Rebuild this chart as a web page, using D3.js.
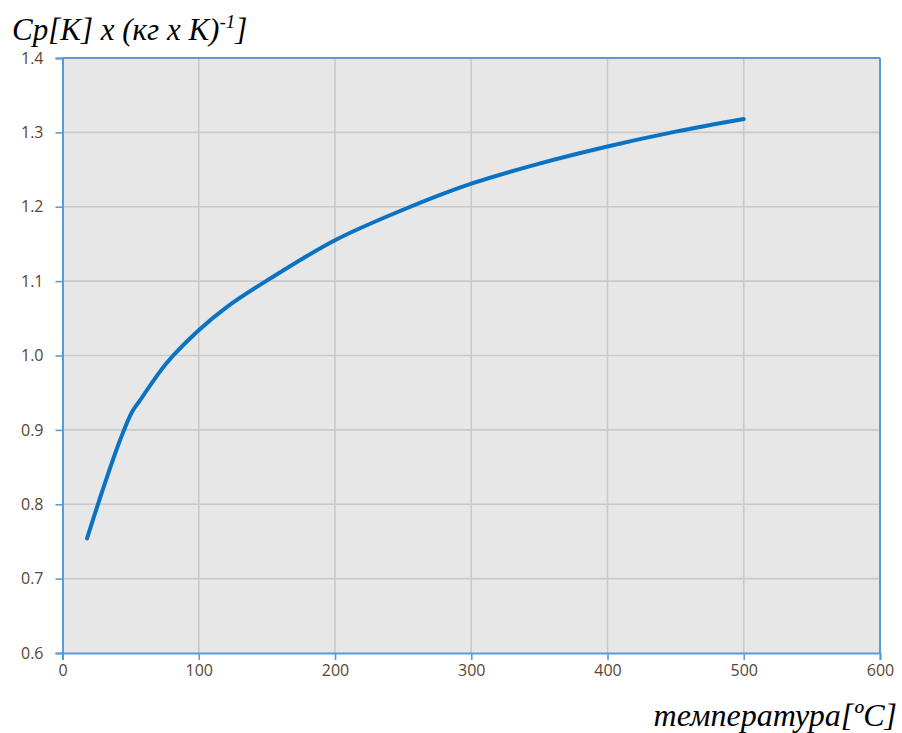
<!DOCTYPE html>
<html>
<head>
<meta charset="utf-8">
<script src="https://cdn.jsdelivr.net/npm/d3@7"></script>
<style>
  html, body { margin: 0; padding: 0; background: #ffffff; }
  svg { display: block; }
</style>
</head>
<body>
<svg id="chart" width="902" height="733"></svg>
<script>
// Specific heat vs temperature
const temperature = [18, 30, 42, 51, 57, 76, 100, 122, 152, 200, 250, 300, 350, 400, 450, 500];
const cp = [0.754, 0.822, 0.885, 0.924, 0.940, 0.989, 1.034, 1.067, 1.103, 1.155, 1.196, 1.231, 1.258, 1.281, 1.301, 1.318];
const xTicks = [0, 100, 200, 300, 400, 500, 600];
const yTicks = [0.6, 0.7, 0.8, 0.9, 1.0, 1.1, 1.2, 1.3, 1.4];

const svg = d3.select("#chart");
const m = { left: 62.5, right: 880, top: 58, bottom: 653 };

const x = d3.scaleLinear().domain([0, 600]).range([m.left, m.right]);
const y = d3.scaleLinear().domain([0.6, 1.4]).range([m.bottom, m.top]);

const axisColor = "#5b9bd5";
const labelColor = "#5a4632";
const labelFont = "'Open Sans', 'Noto Sans', sans-serif";

// plot background
svg.append("rect")
  .attr("x", m.left).attr("y", m.top)
  .attr("width", m.right - m.left).attr("height", m.bottom - m.top)
  .attr("fill", "#e7e7e7");

// grid
const grid = svg.append("g").attr("stroke", "#c9c9c9").attr("stroke-width", 1.6);
grid.selectAll("line.v").data(xTicks.slice(1, -1)).join("line")
  .attr("x1", d => x(d)).attr("x2", d => x(d))
  .attr("y1", m.top).attr("y2", m.bottom);
grid.selectAll("line.h").data(yTicks.slice(1, -1)).join("line")
  .attr("x1", m.left).attr("x2", m.right)
  .attr("y1", d => y(d)).attr("y2", d => y(d));

// axes
const xAxis = d3.axisBottom(x).tickValues(xTicks).tickFormat(d3.format("d")).tickSizeOuter(0).tickSize(7).tickPadding(5);
const yAxis = d3.axisLeft(y).tickValues(yTicks).tickFormat(d3.format(".1f")).tickSizeOuter(0).tickSize(7).tickPadding(12);

const gx = svg.append("g").attr("transform", `translate(0,${m.bottom})`).call(xAxis);
const gy = svg.append("g").attr("transform", `translate(${m.left},0)`).call(yAxis);

[gx, gy].forEach(g => {
  g.select(".domain").attr("stroke", axisColor).attr("stroke-width", 2);
  g.selectAll(".tick line").attr("stroke", axisColor).attr("stroke-width", 1.6);
  g.selectAll(".tick text")
    .attr("fill", labelColor)
    .style("font-family", labelFont)
    .style("font-size", "16px");
});

// top and right frame
svg.append("line").attr("x1", m.left).attr("x2", m.right).attr("y1", m.top).attr("y2", m.top)
  .attr("stroke", axisColor).attr("stroke-width", 2);
svg.append("line").attr("x1", m.right).attr("x2", m.right).attr("y1", m.top).attr("y2", m.bottom)
  .attr("stroke", axisColor).attr("stroke-width", 2);

// curve
const line = d3.line()
  .x((d, i) => x(temperature[i]))
  .y(d => y(d))
  .curve(d3.curveCatmullRom.alpha(0.5));

svg.append("path")
  .datum(cp)
  .attr("d", line)
  .attr("fill", "none")
  .attr("stroke", "#0a72c2")
  .attr("stroke-width", 4)
  .attr("stroke-linecap", "round");

// y title
const yTitle = svg.append("text")
  .attr("x", 12).attr("y", 40)
  .style("font-family", "'Liberation Serif', 'DejaVu Serif', serif")
  .style("font-style", "italic")
  .style("font-size", "31px")
  .attr("fill", "#000");
yTitle.append("tspan").text("Cp[K] x (кг x K)");
yTitle.append("tspan").attr("dy", -12).style("font-size", "19px").text("-1");
yTitle.append("tspan").attr("dy", 12).text("]");

// x title
svg.append("text")
  .attr("x", 897).attr("y", 726)
  .attr("text-anchor", "end")
  .style("font-family", "'Liberation Serif', 'DejaVu Serif', serif")
  .style("font-style", "italic")
  .style("font-size", "32px")
  .attr("fill", "#000")
  .text("температура[ºC]");
</script>
</body>
</html>
